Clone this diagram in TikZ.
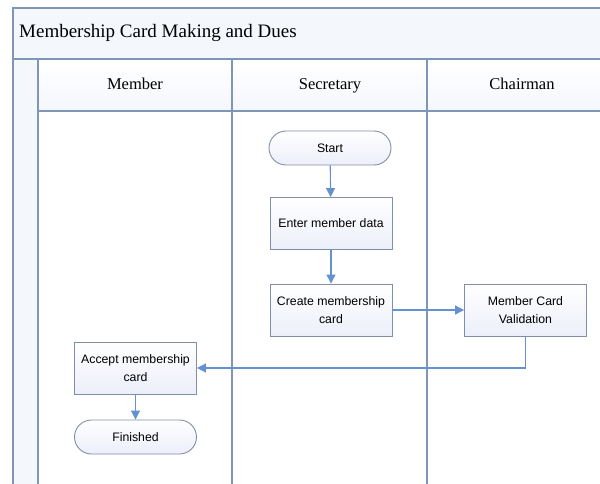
\documentclass[tikz,border=0pt]{standalone}
\usepackage{fontspec}
\setmainfont{Liberation Serif}
\setsansfont{Liberation Sans}
\usetikzlibrary{arrows.meta,positioning}
\definecolor{laneline}{RGB}{128,150,182}
\definecolor{boxline}{RGB}{128,142,168}
\definecolor{flow}{RGB}{100,146,208}
\definecolor{boxfill}{RGB}{236,239,250}
\definecolor{bandfill}{RGB}{244,247,252}
\tikzset{
  lane/.style={draw=laneline, line width=1.3pt},
  procbox/.style={draw=boxline, line width=0.9pt, top color=white, bottom color=boxfill,
    minimum width=122pt, minimum height=52pt, align=center, inner sep=2pt,
    font=\sffamily\fontsize{12.3}{18}\selectfont},
  termbox/.style={procbox, rounded corners=17pt, minimum height=34pt},
  flowline/.style={draw=flow, line width=1.1pt, -{Triangle[width=9pt,length=9pt]}},
  lanetitle/.style={font=\fontsize{16.5}{18}\selectfont, inner sep=0pt, anchor=base}
}
\begin{document}
\begin{tikzpicture}[x=1pt,y=-1pt]
\useasboundingbox (0,0) rectangle (600,484);
\fill[white] (0,0) rectangle (600,484);
% pool background: title band, left strip, header row
\fill[bandfill] (13,8) rectangle (600,59);
\fill[bandfill] (13,59) rectangle (38,484);
\shade[top color=white, bottom color=bandfill] (38,59) rectangle (600,111);
% pool frame and lanes
\draw[lane] (600,8) -- (13,8) -- (13,484);
\draw[lane] (13,59) -- (600,59);
\draw[lane] (38,59) -- (38,484);
\draw[lane] (38,111) -- (600,111);
\draw[lane] (232,59) -- (232,484);
\draw[lane] (427,59) -- (427,484);
% titles
\node[anchor=west, font=\fontsize{19}{21}\selectfont, inner sep=0pt] (pool) at (19,33) {Membership Card Making and Dues};
\node[lanetitle] (hmember) at (135,90) {Member};
\node[lanetitle] (hsecretary) at (330,90) {Secretary};
\node[lanetitle] (hchairman) at (522,90) {Chairman};
% flow steps
\node[termbox] (start) at (330,148) {Start};
\node[procbox] (enter) at (331,223.5) {Enter member data};
\node[procbox] (create) at (331,310) {Create membership\\card};
\node[procbox] (valid) at (525.5,310) {Member Card\\Validation};
\node[procbox] (accept) at (135.5,368) {Accept membership\\card};
\node[termbox] (finish) at (135.5,437) {Finished};
% connectors
\draw[flowline] (start) -- (enter);
\draw[flowline] (enter) -- (create);
\draw[flowline] (create) -- (valid);
\draw[flowline] (valid.south) |- (accept.east);
\draw[flowline] (accept) -- (finish);
\end{tikzpicture}
\end{document}
